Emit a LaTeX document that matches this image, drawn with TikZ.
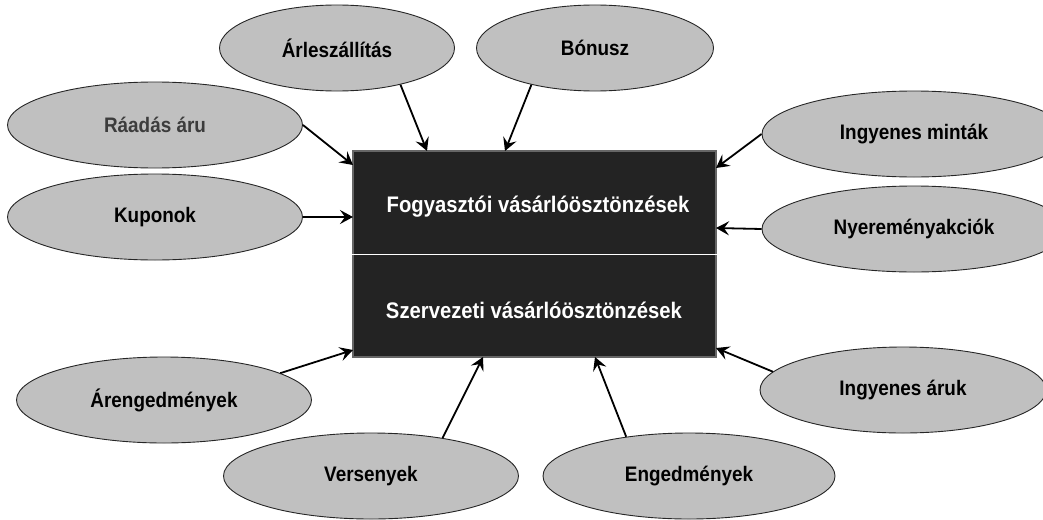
\documentclass[tikz,border=0pt]{standalone}
\usepackage{fontspec}
\setmainfont{Liberation Sans}[FakeStretch=0.9]
\usetikzlibrary{shapes.geometric,arrows.meta}

\definecolor{ellgray}{HTML}{C0C0C0}
\definecolor{boxdark}{HTML}{232323}
\definecolor{txtgray}{HTML}{3C3C3C}

\tikzset{
  ell/.style={ellipse, draw=black!85, fill=ellgray, line width=0.9pt,
    inner sep=0pt, minimum height=86pt,
    font=\fontsize{21}{24}\selectfont\bfseries},
  boxtext/.style={white, font=\fontsize{22.5}{26}\selectfont\bfseries},
  feed/.style={-{Stealth[length=13pt,width=14pt,inset=5pt]}, line width=1.8pt}
}

\begin{document}
\begin{tikzpicture}[x=1pt,y=-1pt]
  \clip (0,0) rectangle (1043,519);

  % central box
  \node[draw=black!60, fill=boxdark, line width=1.2pt, inner sep=0pt,
    minimum width=363pt, minimum height=206pt] (box) at (534.5,254) {};
  \draw[white, line width=0.8pt] (box.west) -- (box.east);
  \node[boxtext] (cons) at (538,207) {Fogyasztói vásárlóösztönzések};
  \node[boxtext] (org) at (534,310) {Szervezeti vásárlóösztönzések};

  % incentives
  \node[ell, minimum width=295pt, text=txtgray] (ra) at (155,125) {Ráadás áru};
  \node[ell, minimum width=295pt] (ku) at (155,217) {Kuponok};
  \node[ell, minimum width=235pt] (al) at (337,48) {Árleszállítás};
  \node[ell, minimum width=237pt] (bo) at (595,48) {Bónusz};
  \node[ell, minimum width=304pt] (im) at (914,134) {Ingyenes minták};
  \node[ell, minimum width=304pt] (ny) at (914,229) {Nyereményakciók};
  \node[ell, minimum width=295pt] (ae) at (164,400) {Árengedmények};
  \node[ell, minimum width=295pt] (ve) at (371,476) {Versenyek};
  \node[ell, minimum width=292pt] (en) at (689,476) {Engedmények};
  \node[ell, minimum width=286pt] (ia) at (903,390) {Ingyenes áruk};

  \coordinate (t-ra) at (353,165);
  \coordinate (t-ku) at (353,217);
  \coordinate (t-al) at (427,151);
  \coordinate (t-bo) at (505,151);
  \coordinate (t-im) at (716,168);
  \coordinate (t-ny) at (716,228);
  \coordinate (t-ae) at (353,350);
  \coordinate (t-ve) at (483,357);
  \coordinate (t-en) at (595,357);
  \coordinate (t-ia) at (716,348);

  \foreach \a/\b in {ra.east/t-ra, ku.east/t-ku, al.-30/t-al, bo.-150/t-bo,
    im.west/t-im, ny.west/t-ny, ae.13/t-ae, ve.28/t-ve, en.148/t-en, ia.172/t-ia}
  {
    \draw[feed] (\a) -- (\b);
  };
\end{tikzpicture}
\end{document}
